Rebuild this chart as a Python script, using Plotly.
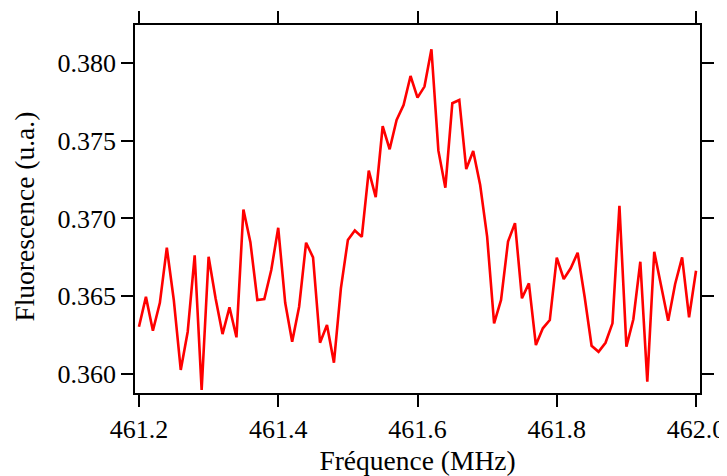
import plotly.graph_objects as go

freq_start = 461.20
freq_step = 0.01
fluorescence = [
    0.36304, 0.36496, 0.36278, 0.36458, 0.36812, 0.36476, 0.36026, 0.36272, 0.36763, 0.35897,
    0.36754, 0.36487, 0.36257, 0.36429, 0.36236, 0.37058, 0.36848, 0.36476, 0.36482, 0.36669,
    0.36940, 0.36458, 0.36208, 0.36433, 0.36844, 0.36750, 0.36201, 0.36315, 0.36073, 0.36551,
    0.36862, 0.36923, 0.36882, 0.37308, 0.37137, 0.37593, 0.37445, 0.37633, 0.37730, 0.37916,
    0.37777, 0.37848, 0.38088, 0.37436, 0.37198, 0.37741, 0.37762, 0.37318, 0.37434, 0.37215,
    0.36883, 0.36326, 0.36476, 0.36851, 0.36970, 0.36487, 0.36583, 0.36186, 0.36294, 0.36347,
    0.36748, 0.36611, 0.36680, 0.36780, 0.36497, 0.36182, 0.36143, 0.36201, 0.36326, 0.37082,
    0.36176, 0.36352, 0.36722, 0.35951, 0.36786, 0.36561, 0.36343, 0.36579, 0.36750, 0.36365,
    0.36664,
]
frequencies = [round(freq_start + i * freq_step, 2) for i in range(len(fluorescence))]

x_tick_values = [461.2, 461.4, 461.6, 461.8, 462.0]
x_tick_labels = ["461.2", "461.4", "461.6", "461.8", "462.0"]
y_tick_values = [0.360, 0.365, 0.370, 0.375, 0.380]
y_tick_labels = ["0.360", "0.365", "0.370", "0.375", "0.380"]
x_title = "Fréquence (MHz)"
y_title = "Fluorescence (u.a.)"

FONT = "Liberation Serif"
TICK_SIZE = 26
TITLE_SIZE = 27.5

fig = go.Figure(
    go.Scatter(
        x=frequencies,
        y=fluorescence,
        mode="lines",
        line=dict(color="#ff0000", width=2.6),
        hoverinfo="skip",
    )
)

axis_common = dict(
    showline=True,
    linecolor="black",
    linewidth=1.5,
    mirror="ticks",
    ticks="outside",
    ticklen=12,
    tickwidth=1.5,
    tickcolor="black",
    showgrid=False,
    zeroline=False,
    automargin=False,
    tickfont=dict(family=FONT, size=TICK_SIZE, color="black"),
)

fig.update_layout(
    template="none",
    width=719,
    height=468,
    margin=dict(l=127, r=27, t=17, b=83, autoexpand=False),
    paper_bgcolor="white",
    plot_bgcolor="white",
    showlegend=False,
    font=dict(family=FONT, size=TICK_SIZE, color="black"),
    xaxis=dict(
        range=[461.1943, 462.0057],
        tickvals=x_tick_values,
        ticktext=x_tick_labels,
        title=dict(text=x_title, font=dict(family=FONT, size=TITLE_SIZE, color="black"), standoff=8),
        **axis_common,
    ),
    yaxis=dict(
        range=[0.35878, 0.38244],
        tickvals=y_tick_values,
        ticktext=y_tick_labels,
        **axis_common,
    ),
)

# y-axis title placed as rotated text, slightly below the plot's middle as in the reference
fig.add_annotation(
    text=y_title,
    xref="paper", yref="paper",
    x=-0.196, y=0.48,
    xanchor="center", yanchor="middle",
    textangle=-90,
    showarrow=False,
    font=dict(family=FONT, size=TITLE_SIZE, color="black"),
)

fig.write_html("out.html")
